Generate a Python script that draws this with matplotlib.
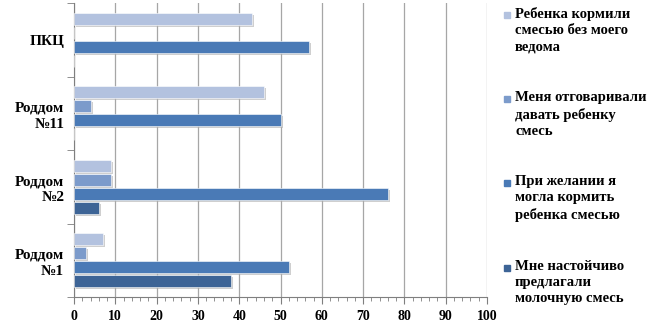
import numpy as np
import matplotlib
matplotlib.use("Agg")
import matplotlib.pyplot as plt
import matplotlib.patheffects as pe
from matplotlib.patches import Rectangle
from matplotlib.ticker import MultipleLocator, FixedLocator

# data (percent)
categories = ["Роддом\n№1", "Роддом\n№2", "Роддом\n№11", "ПКЦ"]
series_names = ["Мне настойчиво\nпредлагали\nмолочную смесь",
                "При желании я\nмогла кормить\nребенка смесью",
                "Меня отговаривали\nдавать ребенку\nсмесь",
                "Ребенка кормили\nсмесью без моего\nведома"]
insisted = [38, 6, 0, 0]
could_feed = [52, 76, 50, 57]
dissuaded = [3, 9, 4, 0]
without_consent = [7, 9, 46, 43]
values = [insisted, could_feed, dissuaded, without_consent]
colors = ["#3D6496", "#4A7AB6", "#7C9BCB", "#B3C2DF"]

plt.rcParams['font.family'] = ['Liberation Serif', 'DejaVu Serif']
plt.rcParams['font.weight'] = 'bold'

W, H = 650, 325
fig = plt.figure(figsize=(W / 100, H / 100), dpi=100)
ax = fig.add_axes([74 / W, 1 - 297 / H, 413 / W, 294 / H])

y = np.arange(len(categories))
step = 0.19
h = 0.165
shadow = [pe.SimplePatchShadow(offset=(1.5, -1.5), shadow_rgbFace='#b0b0b0', alpha=0.6), pe.Normal()]
for i, (vals, name, c) in enumerate(zip(values, series_names, colors)):
    bars = ax.barh(y + (i - 1.5) * step, vals, height=h, color=c, label=name,
                   edgecolor='white', linewidth=0.4, zorder=3)
    for b in bars:
        if b.get_width() > 0:
            b.set_path_effects(shadow)

ax.set_xlim(0, 100)
ax.set_ylim(-0.5, 3.5)
ax.xaxis.set_major_locator(MultipleLocator(10))
ax.xaxis.set_minor_locator(MultipleLocator(2))
ax.grid(axis='x', color='#a6a6a6', linewidth=0.9, zorder=0)
ax.set_yticks(y)
ax.set_yticklabels(categories, fontsize=11, fontweight='bold', linespacing=1.3)
ax.yaxis.set_minor_locator(FixedLocator(np.arange(-0.5, 3.6, 1)))
ax.tick_params(axis='y', which='major', length=0, pad=7)
ax.tick_params(axis='y', which='minor', length=5, color='#7f7f7f')
ax.tick_params(axis='x', which='major', length=5, color='#7f7f7f', labelsize=10, pad=4)
ax.tick_params(axis='x', which='minor', length=3, color='#7f7f7f')
for lab in ax.get_xticklabels():
    lab.set_fontweight('bold')
for s in ['top', 'right']:
    ax.spines[s].set_visible(False)
ax.spines['left'].set_color('#7f7f7f')
ax.spines['bottom'].set_color('#7f7f7f')

# legend, drawn by hand: square aligned with first text line (top entry = last series)
first_line_y = [267, 182, 98, 14]
for name, c, yy in zip(series_names, colors, first_line_y):
    fig.patches.append(Rectangle((504 / W, 1 - (yy + 3.5) / H), 6 / W, 6 / H,
                                 transform=fig.transFigure, color=c, figure=fig))
    fig.text(515 / W, 1 - (yy - 7) / H, name, ha='left', va='top', fontsize=10.5,
             fontweight='bold', linespacing=1.32)

fig.savefig("out.png", dpi=100)
